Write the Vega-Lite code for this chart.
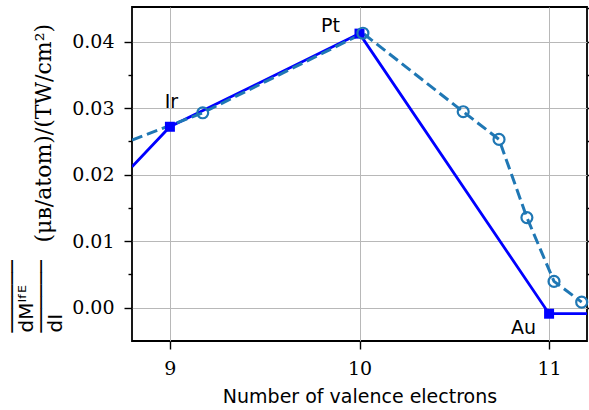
{
  "$schema": "https://vega.github.io/schema/vega-lite/v6.json",
  "autosize": {"type": "none"},
  "padding": {"left": 132, "top": 7, "right": 2, "bottom": 69},
  "width": 455,
  "height": 334,
  "background": "white",
  "config": {
    "view": {"stroke": "black", "strokeWidth": 1.8}
  },
  "datasets": {
    "solid": [
      {"x": 8.8, "y": 0.0212},
      {"x": 9, "y": 0.0272},
      {"x": 10, "y": 0.0412},
      {"x": 11, "y": -0.0009},
      {"x": 11.2, "y": -0.0009}
    ],
    "squares": [
      {"x": 9, "y": 0.0272, "element": "Ir"},
      {"x": 10, "y": 0.0412, "element": "Pt"},
      {"x": 11, "y": -0.0009, "element": "Au"}
    ],
    "dashed": [
      {"x": 8.8, "y": 0.0252},
      {"x": 9.173, "y": 0.0293},
      {"x": 10.018, "y": 0.04126},
      {"x": 10.547, "y": 0.02946},
      {"x": 10.736, "y": 0.0253},
      {"x": 10.883, "y": 0.01355},
      {"x": 11.026, "y": 0.00396},
      {"x": 11.172, "y": 0.00084}
    ],
    "circles": [
      {"x": 9.173, "y": 0.0293},
      {"x": 10.018, "y": 0.04126},
      {"x": 10.547, "y": 0.02946},
      {"x": 10.736, "y": 0.0253},
      {"x": 10.883, "y": 0.01355},
      {"x": 11.026, "y": 0.00396},
      {"x": 11.172, "y": 0.00084}
    ],
    "labels": [
      {"x": 9.008, "y": 0.02997, "label": "Ir"},
      {"x": 9.847, "y": 0.04142, "label": "Pt"},
      {"x": 10.865, "y": -0.00392, "label": "Au"}
    ]
  },
  "resolve": {"axis": {"x": "independent", "y": "independent"}},
  "layer": [
    {
      "data": {"name": "solid"},
      "mark": {"type": "line", "color": "#0000ff", "strokeWidth": 2.8, "clip": true},
      "encoding": {
        "x": {
          "field": "x", "type": "quantitative",
          "scale": {"domain": [8.8, 11.2], "nice": false, "zero": false},
          "axis": {
            "orient": "bottom",
            "values": [9, 10, 11],
            "format": "d",
            "domain": false,
            "grid": true,
            "gridColor": "#b8b8b8",
            "gridWidth": 1,
            "gridOpacity": 1,
            "ticks": true,
            "tickSize": 8,
            "tickColor": "black",
            "tickWidth": 1.4,
            "tickOpacity": 1,
            "labelFont": "DejaVu Serif",
            "labelFontSize": 19,
            "labelColor": "black",
            "labelPadding": 10,
            "title": "Number of valence electrons",
            "titleFont": "DejaVu Sans",
            "titleFontSize": 19,
            "titleFontWeight": "normal",
            "titleColor": "black",
            "titleBaseline": "alphabetic",
            "titleY": 61
          }
        },
        "y": {
          "field": "y", "type": "quantitative",
          "scale": {"domain": [-0.005, 0.0452], "nice": false, "zero": false},
          "axis": {
            "orient": "left",
            "values": [0, 0.01, 0.02, 0.03, 0.04],
            "format": ".2f",
            "domain": false,
            "grid": true,
            "gridColor": "#b8b8b8",
            "gridWidth": 1,
            "gridOpacity": 1,
            "tickSize": 8,
            "tickColor": "black",
            "tickWidth": 1.4,
            "tickOpacity": 1,
            "labelFont": "DejaVu Serif",
            "labelFontSize": 19,
            "labelColor": "black",
            "labelPadding": 10,
            "title": "(μʙ/atom)/(TW/cm²)",
            "titleFont": "DejaVu Serif",
            "titleFontSize": 22,
            "titleFontWeight": "normal",
            "titleColor": "black",
            "titleAngle": -90,
            "titleAlign": "left",
            "titleBaseline": "alphabetic",
            "titleX": -82,
            "titleY": 235
          }
        }
      }
    },
    {
      "data": {"name": "dashed"},
      "mark": {"type": "line", "color": "#1f77b4", "strokeWidth": 3, "strokeDash": [11, 5], "clip": true},
      "encoding": {
        "x": {"field": "x", "type": "quantitative", "scale": {"domain": [8.8, 11.2], "nice": false, "zero": false}, "axis": null},
        "y": {
          "field": "y", "type": "quantitative",
          "scale": {"domain": [-0.005, 0.0452], "nice": false, "zero": false},
          "axis": {
            "orient": "left", "values": [0.005, 0.015, 0.025, 0.035], "labels": false, "domain": false, "grid": false,
            "tickSize": 4, "tickColor": "black", "tickWidth": 1.4, "tickOpacity": 1,
            "title": ["──────", "  dMᴵᶠᴱ", "──────", "    dI"],
            "titleFont": "DejaVu Sans",
            "titleFontSize": 20,
            "titleFontWeight": "normal",
            "titleColor": "black",
            "titleAngle": -90,
            "titleAlign": "left",
            "titleBaseline": "top",
            "titleLineHeight": 14.5,
            "titleX": -130,
            "titleY": 325
          }
        }
      }
    },
    {
      "data": {"name": "squares"},
      "mark": {"type": "point", "shape": "square", "filled": true, "color": "#0000ff", "size": 100, "opacity": 1},
      "encoding": {
        "x": {"field": "x", "type": "quantitative", "scale": {"domain": [8.8, 11.2], "nice": false, "zero": false}, "axis": null},
        "y": {
          "field": "y", "type": "quantitative",
          "scale": {"domain": [-0.005, 0.0452], "nice": false, "zero": false},
          "axis": {"orient": "right", "values": [0, 0.005, 0.01, 0.015, 0.02, 0.025, 0.03, 0.035, 0.04, 0.045], "labels": false, "domain": false, "grid": false, "tickSize": 8, "tickColor": "black", "tickWidth": 1.4, "tickOpacity": 1, "title": null}
        }
      }
    },
    {
      "data": {"name": "circles"},
      "mark": {"type": "point", "shape": "circle", "filled": false, "color": "#1f77b4", "size": 120, "strokeWidth": 2.2, "opacity": 1},
      "encoding": {
        "x": {"field": "x", "type": "quantitative", "scale": {"domain": [8.8, 11.2], "nice": false, "zero": false}, "axis": null},
        "y": {"field": "y", "type": "quantitative", "scale": {"domain": [-0.005, 0.0452], "nice": false, "zero": false}, "axis": null}
      }
    },
    {
      "mark": {"type": "rule", "color": "black", "strokeWidth": 2},
      "encoding": {
        "y": {"datum": 0, "type": "quantitative", "scale": {"domain": [-0.005, 0.0452], "nice": false, "zero": false}, "axis": null}
      }
    },
    {
      "data": {"name": "labels"},
      "mark": {"type": "text", "font": "DejaVu Sans", "fontSize": 19, "align": "center", "baseline": "alphabetic", "color": "black"},
      "encoding": {
        "x": {"field": "x", "type": "quantitative", "scale": {"domain": [8.8, 11.2], "nice": false, "zero": false}, "axis": null},
        "y": {"field": "y", "type": "quantitative", "scale": {"domain": [-0.005, 0.0452], "nice": false, "zero": false}, "axis": null},
        "text": {"field": "label"}
      }
    }
  ]
}
